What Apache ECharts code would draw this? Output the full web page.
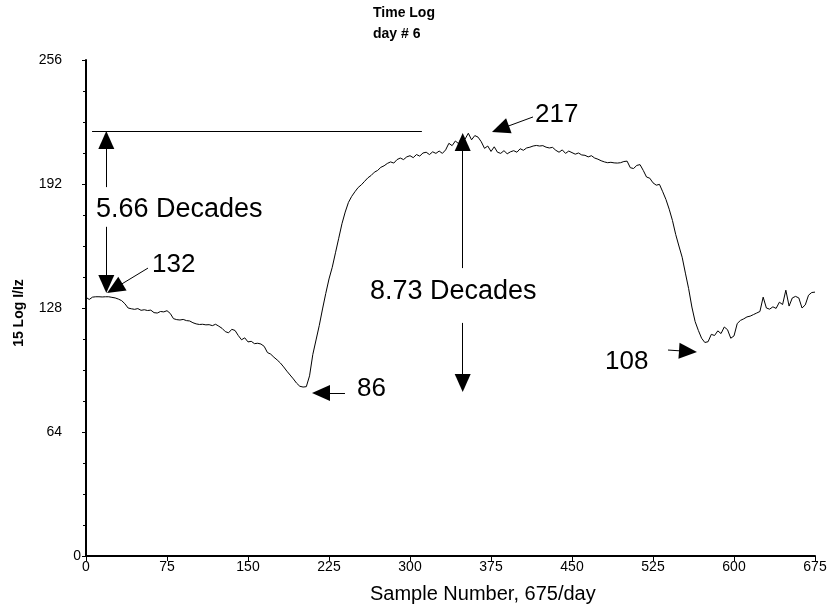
<!DOCTYPE html>
<html>
<head>
<meta charset="utf-8">
<script src="https://cdn.jsdelivr.net/npm/echarts@6/dist/echarts.min.js"></script>
<style>
html,body{margin:0;padding:0;background:#fff;}
#chart{width:832px;height:607px;}
</style>
</head>
<body>
<div id="chart"></div>
<script>
// ---- data ----
const titleLines = ['Time Log', 'day # 6'];
const xAxisTitle = 'Sample Number, 675/day';
const yAxisTitle = '15 Log I/Iz';
const xTicks = [0, 75, 150, 225, 300, 375, 450, 525, 600, 675];
const yTicks = [0, 64, 128, 192, 256];

const sampleNumbers = [
  0,3,6,9,12,15,18,21,24,27,
  30,33,36,39,42,45,48,51,54,57,
  60,63,66,69,72,75,78,81,84,87,
  90,93,96,99,102,105,108,111,114,117,
  120,123,126,129,132,135,138,141,144,147,
  150,153,156,159,162,165,168,171,174,177,
  180,183,186,189,192,195,198,201,204,207,
  210,213,216,219,222,225,228,231,234,237,
  240,243,246,249,252,255,258,261,264,267,
  270,273,276,279,282,285,288,291,294,297,
  300,303,306,309,312,315,318,321,324,327,
  330,333,336,339,342,345,348,351,354,357,
  360,363,366,369,372,375,378,381,384,387,
  390,393,396,399,402,405,408,411,414,417,
  420,423,426,429,432,435,438,441,444,447,
  450,453,456,459,462,465,468,471,474,477,
  480,483,486,489,492,495,498,501,504,507,
  510,513,516,519,522,525,528,531,534,537,
  540,543,546,549,552,555,558,561,564,567,
  570,573,576,579,582,585,588,591,594,597,
  600,603,606,609,612,615,618,621,624,627,
  630,633,636,639,642,645,648,651,654,657,
  660,663,666,669,672,675
];
const logValues = [
  133.5,132.4,133.6,133.8,133.8,133.7,133.8,133.8,133.5,133.2,
  132.6,131.8,130.2,128.0,127.6,127.3,127.7,126.8,127.1,126.7,
  126.9,125.6,125.4,126.2,126.0,126.6,125.2,122.5,122.0,121.8,
  122.1,121.5,121.3,120.4,119.8,119.5,119.6,119.3,119.4,118.9,
  119.6,118.6,117.5,115.8,115.2,117.0,116.4,113.8,111.6,112.6,
  110.5,110.8,109.6,109.8,109.4,108.2,105.0,104.2,102.6,101.2,
  99.6,97.6,95.4,93.4,91.4,89.2,87.6,87.2,87.4,93.0,
  104.0,111.5,119.0,127.5,135.5,143.0,149.0,156.5,164.0,171.5,
  177.5,182.5,185.6,188.0,190.2,191.6,193.4,195.2,196.4,198.1,
  199.0,200.6,201.4,202.6,203.4,202.8,204.6,205.4,204.6,206.0,
  206.6,205.6,207.2,206.4,208.0,208.4,207.2,208.6,207.8,209.0,
  207.8,209.6,213.0,211.8,214.2,212.8,216.0,215.2,218.2,214.8,
  217.0,216.2,213.8,210.4,211.6,208.8,211.2,208.4,207.8,209.2,
  207.6,208.6,209.2,208.4,210.2,209.4,210.6,211.0,211.6,211.9,
  211.6,211.8,211.0,210.6,210.9,209.4,208.4,209.6,207.8,209.0,
  208.2,207.4,208.0,207.0,206.8,206.0,206.6,205.4,204.8,204.0,
  203.4,203.0,203.2,202.9,202.8,203.0,203.6,203.8,200.4,200.0,
  201.6,202.0,199.0,195.6,195.0,192.6,191.4,191.8,188.0,184.0,
  179.0,173.2,166.0,160.0,154.2,146.0,138.0,128.5,121.0,116.4,
  112.4,110.2,110.6,114.4,113.8,116.2,114.8,118.2,116.8,112.4,
  113.6,120.0,121.6,122.4,123.4,123.8,124.6,125.4,126.2,133.6,
  128.0,127.4,128.6,127.8,131.0,129.8,137.2,129.0,133.2,134.0,
  133.2,128.0,129.6,134.6,136.0,136.2
];

// annotation texts
const annotationTexts = ['5.66 Decades', '132', '8.73 Decades', '86', '217', '108'];

// ---- chart ----
const FONT = "'Liberation Sans', Arial, sans-serif";
const chart = echarts.init(document.getElementById('chart'), null, {renderer: 'canvas'});

const seriesData = sampleNumbers.map((s, i) => [s, logValues[i]]);
const AH = [16, 18];

function arrow(from, to) {
  return [
    {coord: from, symbol: 'none'},
    {coord: to, symbol: 'triangle', symbolSize: AH}
  ];
}

const option = {
  animation: false,
  backgroundColor: '#fff',
  grid: {left: 86, right: 17, top: 60, bottom: 51, containLabel: false, outerBoundsMode: 'none'},
  xAxis: {
    type: 'value',
    min: xTicks[0], max: xTicks[xTicks.length - 1], interval: 75,
    axisLine: {show: true, onZero: false, lineStyle: {color: '#000', width: 2}},
    axisTick: {show: true, length: 5, lineStyle: {color: '#000', width: 1}},
    axisLabel: {color: '#000', fontFamily: FONT, fontSize: 14, margin: 4, showMaxLabel: true, showMinLabel: true},
    splitLine: {show: false}
  },
  yAxis: {
    type: 'value',
    min: yTicks[0], max: yTicks[yTicks.length - 1], interval: 64,
    axisLine: {show: true, onZero: false, lineStyle: {color: '#000', width: 2}},
    axisTick: {show: true, length: 4, lineStyle: {color: '#000', width: 1}},
    minorTick: {show: true, splitNumber: 4, length: 3, lineStyle: {color: '#000', width: 1}},
    axisLabel: {
      color: '#000', fontFamily: FONT, fontSize: 14, margin: 5,
      formatter: v => v === 0 ? '{z|0}' : '{n|' + v + '}',
      rich: {
        z: {fontFamily: FONT, fontSize: 14, color: '#000'},
        n: {fontFamily: FONT, fontSize: 14, color: '#000', padding: [0, 19, 0, 0]}
      }
    },
    splitLine: {show: false}
  },
  series: [{
    type: 'line',
    data: seriesData,
    showSymbol: false,
    symbol: 'none',
    lineStyle: {color: '#000', width: 1},
    silent: true,
    markLine: {
      silent: true,
      animation: false,
      symbol: ['none', 'triangle'],
      label: {show: false},
      emphasis: {disabled: true},
      lineStyle: {color: '#000', width: 1, type: 'solid'},
      itemStyle: {color: '#000'},
      data: [
        [{coord: [5.6, 219.1], symbol: 'none'}, {coord: [311, 219.1], symbol: 'none'}],
        arrow([18.8, 190.4], [18.8, 214.7]),
        arrow([18.8, 169.9], [18.8, 140.4]),
        arrow([57.4, 148.6], [26.6, 138.2]),
        arrow([348.8, 148.6], [348.8, 213.7]),
        arrow([348.8, 120.3], [348.8, 89.3]),
        arrow([239.8, 84.1], [217.6, 84.1]),
        arrow([413.9, 226.6], [383.7, 220.4]),
        arrow([538.9, 106.3], [557.4, 105.6])
      ]
    }
  }],
  graphic: [
    {type: 'text', left: 373, top: 6, style: {text: titleLines[0], font: "bold 14px " + FONT, fill: '#000'}},
    {type: 'text', left: 373, top: 27, style: {text: titleLines[1], font: "bold 14px " + FONT, fill: '#000'}},
    {type: 'text', x: 19, y: 313, rotation: Math.PI / 2,
      style: {text: yAxisTitle, font: "bold 14px " + FONT, fill: '#000', align: 'center', verticalAlign: 'middle'}},
    {type: 'text', x: 370, y: 594,
      style: {text: xAxisTitle, font: "20px " + FONT, fill: '#000', align: 'left', verticalAlign: 'middle'}},
    {type: 'text', x: 96, y: 210, style: {text: annotationTexts[0], font: "27px " + FONT, fill: '#000', verticalAlign: 'middle'}},
    {type: 'text', x: 152, y: 265, style: {text: annotationTexts[1], font: "26px " + FONT, fill: '#000', verticalAlign: 'middle'}},
    {type: 'text', x: 370, y: 292, style: {text: annotationTexts[2], font: "27px " + FONT, fill: '#000', verticalAlign: 'middle'}},
    {type: 'text', x: 357, y: 389, style: {text: annotationTexts[3], font: "26px " + FONT, fill: '#000', verticalAlign: 'middle'}},
    {type: 'text', x: 535, y: 115, style: {text: annotationTexts[4], font: "26px " + FONT, fill: '#000', verticalAlign: 'middle'}},
    {type: 'text', x: 605, y: 362, style: {text: annotationTexts[5], font: "26px " + FONT, fill: '#000', verticalAlign: 'middle'}}
  ]
};
chart.setOption(option);
</script>
</body>
</html>
